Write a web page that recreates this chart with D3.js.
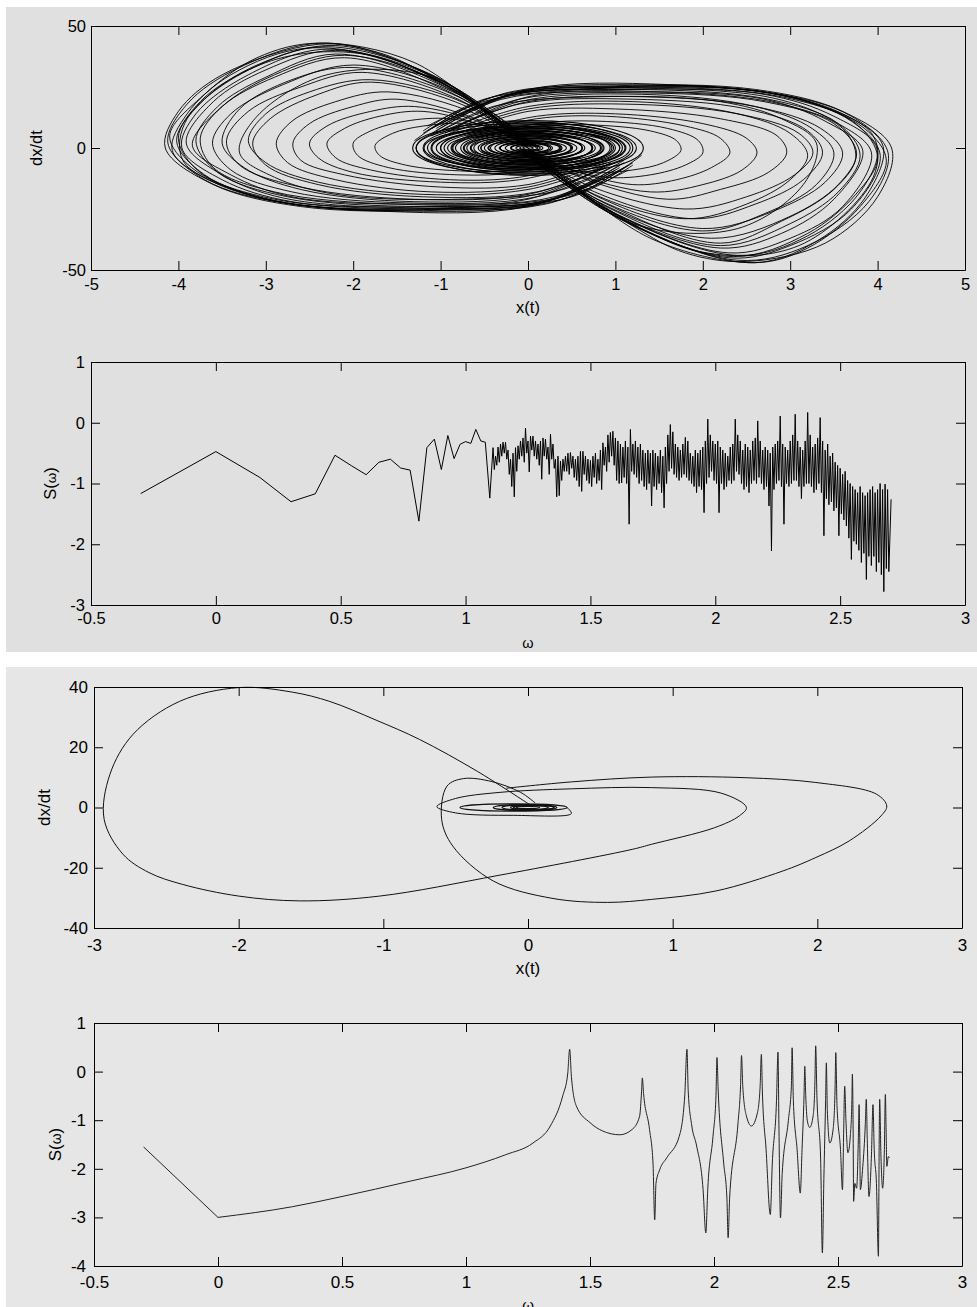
<!DOCTYPE html>
<html><head><meta charset="utf-8">
<script src="https://cdn.jsdelivr.net/npm/d3@7"></script>
<style>
body{margin:0;background:#fff}
svg{display:block}
text{font-family:"Liberation Sans",Arial,sans-serif}
</style>
</head><body>
<svg id="c" width="977" height="1307"></svg>
<script>
// ---------------- DATA ----------------
// Figure 1 phase portrait: left-lobe excursions (x, dx/dt pairs, flattened)
const leftLoops = [
 [1.2,-6, 0.4,-21, -1.0,-25.5, -2.6,-24, -3.6,-15, -4.15,0, -4.0,15, -3.5,30, -2.4,42.5, -1.7,39, -1.1,29, 0.0,3],
 [1.1,-8, 0.2,-22, -1.2,-25, -2.8,-22.5, -3.7,-13, -4.12,2, -3.9,18, -3.3,33, -2.3,43, -1.0,28, 0.1,1],
 [1.2,-7, 0.5,-20, -0.9,-24.5, -2.6,-23.5, -3.6,-14, -4.07,-1, -3.9,14, -3.4,30, -2.5,41, -1.2,31, -0.1,4],
 [1.0,-9, 0.1,-23, -1.4,-25.8, -2.9,-21.5, -3.7,-11, -4.02,3, -3.7,20, -3.1,34, -2.2,42, -0.9,26, 0.1,0],
 [1.15,-7, 0.3,-21, -1.1,-24, -2.7,-22, -3.5,-13, -3.96,0, -3.8,14, -3.2,30, -2.3,40.5, -1.0,27, 0.0,2],
 [1.05,-8, 0.2,-22, -1.3,-24.5, -2.8,-20.5, -3.5,-11, -3.91,2, -3.6,19, -3.0,32, -2.2,40, -0.95,26, 0.05,1],
 [1.1,-6, 0.3,-20, -1.2,-23, -2.7,-20, -3.4,-11, -3.84,1, -3.5,17, -2.9,30, -2.1,38, -0.9,25, 0.0,2],
 [1.0,-7, 0.1,-20, -1.4,-22.5, -2.7,-18, -3.4,-9, -3.61,2, -3.4,14, -2.8,26, -2.0,34, -0.8,22, 0.05,0],
 [0.9,-8, 0.0,-19, -1.3,-21, -2.6,-16, -3.3,-7, -3.45,3, -3.2,15, -2.6,25, -1.9,31, -0.8,20, 0.0,1],
 [1.0,-6, 0.1,-18, -1.2,-20, -2.4,-15, -3.0,-7, -3.15,2, -2.95,12, -2.4,22, -1.8,27, -0.7,17, 0.0,1],
 [0.9,-6, 0.0,-16, -1.1,-18, -2.2,-13, -2.75,-6, -2.88,2, -2.7,11, -2.2,19, -1.6,23, -0.6,14, 0.0,0],
 [0.8,-6, 0.0,-15, -1.0,-16, -2.1,-11, -2.6,-5, -2.69,2, -2.5,10, -2.0,17, -1.5,20, -0.6,12, 0.0,1],
 [0.8,-5, -0.1,-13, -1.0,-14, -2.0,-10, -2.4,-4, -2.5,2, -2.3,9, -1.8,15, -1.3,17, -0.5,10, 0.0,0],
 [0.7,-5, -0.1,-12, -0.9,-13, -1.8,-9, -2.2,-4, -2.3,2, -2.1,8, -1.7,13, -1.2,15, -0.5,9, 0.0,1],
 [0.6,-4, -0.1,-10, -0.8,-11, -1.6,-8, -1.95,-3, -2.0,2, -1.8,7, -1.4,11, -0.9,12, -0.3,7, 0.1,1],
 [0.6,-4, -0.1,-9, -0.7,-9.5, -1.4,-7, -1.7,-3, -1.75,1, -1.55,6, -1.2,9, -0.7,10, -0.2,6, 0.1,0],
 [1.3,-3, 0.6,-18, -0.6,-24, -2.2,-25, -3.3,-18, -3.95,-5, -3.9,12, -3.0,35, -1.8,38, -0.4,14],
 [1.0,-10, 0.0,-24, -1.6,-26, -3.1,-20, -3.85,-8, -4.1,5, -3.7,22, -3.1,37, -2.4,43, -1.3,35, -0.2,6],
 [0.9,-7, 0.0,-21, -1.5,-23, -2.9,-18, -3.6,-8, -3.75,4, -3.5,17, -2.9,29, -2.1,37, -0.9,23, 0.1,1],
 [1.1,-5, 0.4,-17, -0.8,-21, -2.2,-19, -2.9,-12, -3.3,-2, -3.1,13, -2.3,30, -1.1,29, -0.2,7],
 [1.15,-9, 0.2,-23, -1.3,-25, -2.9,-21, -3.75,-10, -4.0,4, -3.75,19, -3.2,32, -2.35,41.5, -1.1,30, 0.0,2],
 [1.05,-7, 0.2,-21.5, -1.2,-24, -2.75,-20, -3.55,-10, -3.8,3, -3.55,17, -3.0,29, -2.2,38.5, -0.95,25, 0.05,1],
 [0.95,-6, 0.1,-19, -1.3,-22, -2.6,-17, -3.25,-8, -3.5,2, -3.3,16, -2.7,28, -2.0,33, -0.8,21, 0.0,1],
 [0.9,-7, 0.0,-17, -1.2,-19, -2.4,-14, -3.0,-6, -3.2,3, -3.0,14, -2.5,23, -1.8,28, -0.7,18, 0.0,0]
];
// Figure 1 phase portrait: right-lobe excursions
const rightLoops = [
 [-1.2,6, -0.4,21, 1.0,25.5, 2.6,24, 3.6,15, 4.16,0, 4.0,-20, 3.4,-39, 2.5,-46.5, 1.8,-43, 1.2,-32, 0.0,-3],
 [-1.1,8, -0.2,22, 1.2,25, 2.8,22.5, 3.7,13, 4.12,-2, 3.9,-22, 3.2,-40, 2.4,-46, 1.0,-28, -0.1,-1],
 [-1.2,7, -0.5,20, 0.9,24.5, 2.6,23.5, 3.6,14, 4.06,1, 3.9,-18, 3.4,-36, 2.6,-47, 1.3,-33, 0.1,-4],
 [-1.0,9, -0.1,23, 1.4,25.8, 2.9,21.5, 3.7,11, 4.03,-3, 3.7,-25, 3.0,-40, 2.3,-45, 0.9,-26, -0.1,0],
 [-1.15,7, -0.3,21, 1.1,24, 2.7,22, 3.5,13, 3.99,0, 3.8,-18, 3.2,-36, 2.4,-44, 1.0,-27, 0.0,-2],
 [-1.05,8, -0.2,22, 1.3,24.5, 2.8,20.5, 3.5,11, 3.93,-2, 3.6,-24, 3.0,-37, 2.3,-43, 0.95,-26, -0.05,-1],
 [-1.1,6, -0.3,20, 1.2,23, 2.7,20, 3.4,11, 3.83,-1, 3.5,-21, 2.9,-35, 2.2,-41, 0.9,-25, 0.0,-2],
 [-1.0,7, -0.1,20, 1.4,22.5, 2.7,19, 3.5,10, 3.76,-2, 3.55,-15, 3.0,-28, 2.1,-37, 0.8,-22, -0.05,0],
 [-0.9,8, 0.0,19, 1.3,21, 2.6,17, 3.35,8, 3.60,-2, 3.4,-14, 2.8,-26, 2.0,-33, 0.8,-20, 0.0,-1],
 [-1.0,6, -0.1,18, 1.2,20, 2.5,16, 3.2,7, 3.37,-2, 3.15,-13, 2.6,-23, 1.9,-29, 0.7,-17, 0.0,-1],
 [-0.9,6, 0.0,16, 1.1,18, 2.4,14, 3.1,6, 3.26,-2, 3.05,-11, 2.5,-20, 1.8,-25, 0.6,-14, 0.0,0],
 [-0.8,6, 0.0,15, 1.0,16, 2.2,12, 2.85,5, 2.96,-2, 2.75,-10, 2.2,-17, 1.6,-21, 0.6,-12, 0.0,-1],
 [-0.8,5, 0.1,13, 1.0,14, 2.0,10, 2.5,4, 2.62,-2, 2.45,-9, 2.0,-15, 1.4,-18, 0.5,-10, 0.0,0],
 [-0.7,5, 0.1,12, 0.9,13, 1.8,9, 2.2,4, 2.31,-2, 2.1,-8, 1.7,-13, 1.2,-15, 0.5,-9, 0.0,-1],
 [-0.6,4, 0.1,10, 0.8,11, 1.6,8, 1.95,3, 2.0,-2, 1.8,-7, 1.4,-11, 0.9,-12, 0.3,-7, -0.1,-1],
 [-0.6,4, 0.1,9, 0.7,9.5, 1.4,7, 1.7,3, 1.75,-1, 1.55,-6, 1.2,-9, 0.7,-10, 0.2,-6, -0.1,0],
 [-1.3,3, -0.6,18, 0.6,24, 2.2,25, 3.3,18, 3.95,5, 3.95,-12, 3.1,-40, 1.9,-42, 0.4,-14],
 [-1.0,10, 0.0,24, 1.6,26, 3.1,20, 3.85,8, 4.1,-5, 3.8,-24, 3.2,-41, 2.6,-47, 1.4,-37, 0.2,-6],
 [-0.9,7, 0.0,21, 1.5,23, 2.9,18, 3.6,8, 3.75,-4, 3.5,-17, 2.9,-30, 2.2,-39, 0.9,-23, -0.1,-1],
 [-1.1,5, -0.4,17, 0.8,21, 2.2,19, 2.9,12, 3.3,2, 3.15,-15, 2.4,-33, 1.2,-31, 0.2,-7],
 [-1.15,9, -0.2,23, 1.3,25, 2.9,21, 3.75,10, 4.0,-4, 3.75,-19, 3.2,-35, 2.35,-44.5, 1.1,-30, 0.0,-2],
 [-1.05,7, -0.2,21.5, 1.2,24, 2.75,20, 3.55,10, 3.8,-3, 3.55,-18, 3.0,-31, 2.2,-40, 0.95,-25, -0.05,-1],
 [-0.95,6, -0.1,19, 1.3,22, 2.6,17, 3.25,8, 3.5,-2, 3.3,-15, 2.7,-27, 2.0,-34, 0.8,-21, 0.0,-1],
 [-0.9,7, 0.0,17, 1.2,19, 2.4,14, 3.0,6, 3.2,-3, 3.0,-13, 2.5,-23, 1.8,-29, 0.7,-18, 0.0,0]
];
// Figure 1 central spiral rings: [centre x, half-width, half-height]
const centerRings1 = [
 [0,0.06,0.5],[0.01,0.1,0.8],[0,0.14,1.1],[-0.01,0.18,1.5],[0.02,0.22,1.8],[0,0.26,2.1],
 [-0.02,0.3,2.5],[0.02,0.34,2.8],[0,0.38,3.1],[-0.03,0.42,3.5],[0.03,0.46,3.8],[0,0.5,4.1],
 [-0.03,0.54,4.5],[0.04,0.58,4.8],[0,0.62,5.1],[-0.04,0.66,5.5],[0.04,0.7,5.8],[0,0.74,6.1],
 [-0.05,0.78,6.5],[0.05,0.82,6.8],[0,0.86,7.1],[-0.06,0.9,7.5],[0.06,0.94,7.8],[-0.02,0.98,8.1],
 [-0.08,1.02,8.5],[0.06,1.06,8.8],[-0.05,1.1,9.1],[0.03,1.14,9.5],[-0.1,1.18,9.9],[0.02,1.22,10.3],
 [-0.06,1.26,10.7],[0.02,0.35,2.2],[-0.01,0.45,3.0],[0.01,0.55,3.9],[0,0.65,4.6],[0.02,0.75,5.4],
 [-0.02,0.85,6.2],[0.03,0.95,7.0],[0.0,1.05,7.9],[-0.04,1.15,8.7],[0.02,1.3,11.2]
];

// Figure 1 spectrum: sparse low-frequency points [log10 w, S]
const spec1Sparse = [
 [-0.301,-1.166],[0.0,-0.475],[0.176,-0.90],[0.301,-1.30],[0.398,-1.17],[0.477,-0.535],[0.544,-0.71],
 [0.602,-0.855],[0.653,-0.65],[0.699,-0.60],[0.740,-0.745],[0.778,-0.78],[0.813,-1.62],[0.845,-0.41],
 [0.875,-0.27],[0.903,-0.77],[0.929,-0.21],[0.954,-0.59],[0.978,-0.355],[1.0,-0.31],[1.021,-0.34],
 [1.041,-0.11],[1.061,-0.30],[1.079,-0.32],[1.097,-1.24]
];
// Figure 1 spectrum, dense part: upper / lower extremes in bins of 0.01 starting at w = 1.11
const spec1Start = 1.11, spec1Bin = 0.01;
const spec1Hi = [
 -0.41,-0.55,-0.40,-0.35,-0.32,-0.32,-0.45,-0.60,-0.50,
 -0.41,-0.38,-0.30,-0.25,-0.09,-0.30,-0.22,-0.22,-0.30,-0.35,
 -0.30,-0.25,-0.27,-0.40,-0.19,-0.35,-0.60,-0.55,-0.63,-0.60,
 -0.55,-0.50,-0.49,-0.55,-0.60,-0.55,-0.47,-0.47,-0.55,-0.60,
 -0.62,-0.55,-0.50,-0.60,-0.45,-0.33,-0.40,-0.20,-0.16,-0.14,
 -0.25,-0.30,-0.35,-0.40,-0.30,-0.40,-0.11,-0.35,-0.30,-0.40,
 -0.35,-0.45,-0.50,-0.45,-0.50,-0.45,-0.50,-0.55,-0.45,-0.55,
 -0.40,-0.20,-0.03,-0.15,-0.35,-0.40,-0.45,-0.35,-0.24,-0.30,
 -0.50,-0.55,-0.45,-0.50,-0.45,-0.40,-0.30,0.06,-0.20,-0.30,
 -0.35,-0.30,-0.40,-0.45,-0.50,-0.55,-0.40,-0.35,0.06,-0.20,
 -0.30,-0.45,-0.35,-0.40,-0.45,-0.30,-0.25,0.03,-0.30,-0.45,
 -0.40,-0.45,-0.50,-0.40,-0.35,-0.30,0.11,-0.35,-0.40,-0.45,
 -0.30,-0.20,0.14,-0.30,-0.40,-0.45,-0.30,0.17,-0.20,-0.40,
 -0.35,-0.25,0.085,-0.30,-0.45,-0.35,-0.55,-0.50,-0.65,-0.70,
 -0.75,-0.85,-0.80,-0.95,-1.00,-1.05,-1.10,-1.15,-1.05,-1.15,
 -1.20,-1.15,-1.10,-1.05,-1.15,-1.10,-1.00,-1.10,-1.01,-1.10
];
const spec1Lo = [
 -0.77,-0.70,-0.65,-0.55,-0.50,-0.60,-0.85,-1.05,-1.22,
 -0.80,-0.60,-0.55,-0.65,-0.50,-0.81,-0.45,-0.55,-0.60,-0.70,
 -0.93,-0.55,-0.60,-0.85,-0.60,-0.75,-1.22,-1.20,-0.95,-0.80,
 -0.80,-0.85,-0.75,-0.90,-0.95,-1.05,-1.13,-0.85,-0.95,-1.00,
 -1.05,-0.90,-1.00,-0.95,-1.10,-0.70,-0.80,-0.65,-0.55,-0.70,
 -0.95,-1.00,-0.99,-0.90,-1.00,-1.67,-0.80,-0.85,-0.90,-1.00,
 -0.95,-1.05,-1.10,-1.00,-1.37,-1.05,-1.10,-1.00,-1.15,-1.40,
 -1.00,-0.80,-0.75,-0.85,-0.90,-0.95,-0.90,-0.85,-0.90,-0.95,
 -1.00,-1.05,-1.15,-1.05,-1.10,-1.48,-1.00,-0.90,-0.80,-0.95,
 -1.00,-1.48,-1.00,-1.10,-1.05,-0.95,-1.00,-0.95,-0.80,-0.85,
 -1.00,-1.10,-1.05,-1.15,-1.00,-0.95,-1.00,-0.90,-1.00,-1.10,
 -1.05,-1.37,-2.11,-1.10,-1.00,-0.95,-1.05,-1.67,-1.00,-1.05,
 -1.00,-0.95,-0.95,-1.05,-1.25,-1.05,-1.00,-1.00,-1.05,-1.15,
 -1.10,-1.00,-1.15,-1.86,-1.25,-1.35,-1.30,-1.45,-1.40,-1.86,
 -1.50,-1.60,-1.70,-1.90,-2.25,-1.95,-2.00,-2.10,-2.30,-2.15,
 -2.58,-2.20,-2.35,-2.20,-2.45,-2.30,-2.50,-2.78,-2.40,-2.45
];
const spec1End = [2.704,-1.26];

// Figure 2 phase portrait: trajectory pieces
const orbitLeft = [
 [0.01,1],[-0.35,12],[-0.75,22.6],[-1.05,29],[-1.37,35.2],[-1.63,38.3],[-2.0,39.8],[-2.41,35.2],
 [-2.73,24.3],[-2.89,11],[-2.93,-3.9],[-2.80,-15.5],[-2.62,-21.6],[-2.39,-25.5],[-2.0,-29.4],
 [-1.58,-31.0],[-1.025,-29.4],[-0.2,-22.5],[0.72,-13.9],[0.855,-12.2],[1.29,-6.7],[1.46,-2.8],
 [1.51,0],[1.34,4.7],[0.855,6.6],[0.3,6.2],[-0.2,5],[-0.5,3],[-0.63,0.3],[-0.5,-1.8],[-0.1,-2.6],
 [0.3,-2.0],[0.27,0]
];
const orbitRight = [
 [-0.15,6.4],[0.3,8.5],[0.855,10.1],[1.5,9.9],[1.99,8.3],[2.41,4.4],[2.48,0.5],[2.44,-2.8],
 [2.22,-11.1],[1.99,-16.6],[1.76,-21.1],[1.30,-27.7],[0.855,-30.5],[0.55,-31.5],[0.173,-30.2],
 [-0.24,-24.4],[-0.52,-12.8],[-0.597,-3.9],[-0.56,7.1],[-0.446,9.6],[-0.25,8.6],[-0.05,5],[0.05,1.5]
];
const centerRings2 = [
 [-0.1,0.37,1.2],[0.0,0.18,0.9],[0.02,0.12,0.6],[0.0,0.08,0.4],[0.03,0.15,0.7],[-0.02,0.22,1.0]
];

// Figure 2 spectrum [log10 w, S]: straight low-frequency part, then resonances
const spec2Low = [[-0.30,-1.55],[0.0,-3.0]];
const spec2 = [
 [0.0,-3.0],[0.3,-2.78],[0.5,-2.57],[0.77,-2.26],[1.0,-1.98],[1.16,-1.71],[1.27,-1.47],
 [1.34,-1.12],[1.39,-0.50],[1.41,-0.05],[1.418,0.46],[1.425,-0.1],[1.445,-0.71],[1.50,-1.05],
 [1.55,-1.22],[1.62,-1.30],[1.67,-1.19],[1.70,-0.92],[1.708,-0.4],[1.711,-0.13],[1.716,-0.45],
 [1.74,-1.19],[1.754,-1.88],[1.761,-3.05],[1.766,-2.3],[1.781,-2.02],[1.81,-1.77],[1.86,-1.33],
 [1.882,-0.50],[1.891,0.46],[1.896,-0.4],[1.91,-1.1],[1.93,-1.53],[1.956,-2.43],[1.967,-3.32],
 [1.975,-2.4],[1.996,-1.33],[2.008,-0.5],[2.012,0.29],[2.017,-0.4],[2.039,-1.88],[2.052,-2.6],
 [2.057,-3.42],[2.063,-2.6],[2.097,-1.05],[2.107,-0.3],[2.111,0.33],[2.116,-0.3],[2.13,-0.9],
 [2.151,-1.12],[2.175,-0.85],[2.186,-0.3],[2.191,0.355],[2.195,-0.4],[2.21,-1.6],[2.227,-2.94],
 [2.235,-1.9],[2.252,-0.6],[2.258,0.40],[2.262,-1.2],[2.268,-3.01],[2.275,-2.1],[2.30,-1.0],
 [2.312,-0.3],[2.315,0.49],[2.32,-0.6],[2.335,-1.6],[2.348,-2.5],[2.355,-1.6],[2.363,-0.5],
 [2.366,0.11],[2.37,-0.5],[2.376,-1.0],[2.386,-1.15],[2.40,-0.9],[2.407,-0.2],[2.41,0.53],
 [2.415,-0.5],[2.43,-1.8],[2.437,-3.73],[2.443,-2.2],[2.45,-0.6],[2.453,0.18],[2.457,-0.8],
 [2.467,-1.47],[2.48,-1.2],[2.488,-0.4],[2.491,0.39],[2.496,-0.7],[2.51,-1.6],[2.518,-2.43],
 [2.523,-1.2],[2.527,-0.30],[2.532,-1.0],[2.54,-1.67],[2.55,-1.3],[2.556,-0.6],[2.558,-0.05],
 [2.561,-1.2],[2.563,-2.67],[2.568,-2.3],[2.575,-2.4],[2.582,-1.4],[2.585,-0.68],[2.588,-1.5],
 [2.59,-2.43],[2.60,-1.95],[2.61,-1.1],[2.614,-0.57],[2.618,-1.4],[2.625,-2.57],[2.635,-1.7],
 [2.641,-0.68],[2.646,-1.6],[2.655,-2.3],[2.663,-3.80],[2.666,-1.5],[2.668,-0.57],[2.673,-1.7],
 [2.68,-2.4],[2.687,-1.6],[2.691,-0.47],[2.694,-1.2],[2.697,-1.95],[2.703,-1.75],[2.708,-1.77]
];

// Tick values
const ticksX1 = [-5,-4,-3,-2,-1,0,1,2,3,4,5];
const ticksY1 = [-50,0,50];
const ticksW = [-0.5,0,0.5,1,1.5,2,2.5,3];
const ticksS1 = [-3,-2,-1,0,1];
const ticksX2 = [-3,-2,-1,0,1,2,3];
const ticksY2 = [-40,-20,0,20,40];
const ticksS2 = [-4,-3,-2,-1,0,1];

// ---------------- DRAWING ----------------
const svg = d3.select("#c");
svg.append("rect").attr("x",6).attr("y",7).attr("width",971).attr("height",645).attr("fill","#e0e0e0");
svg.append("rect").attr("x",6).attr("y",667).attr("width",971).attr("height",640).attr("fill","#e6e6e6");

const pairs = a => d3.range(0, a.length, 2).map(i => [a[i], a[i+1]]);

function makeAxes(c){
  const g = svg.append("g");
  const x = d3.scaleLinear().domain(c.xd).range([c.l, c.r]);
  const y = d3.scaleLinear().domain(c.yd).range([c.b, c.t]);
  const data = g.append("g");
  const ax = g.append("g");
  const fmt = d => String(d);
  const tl = 9;
  ax.append("g").attr("transform",`translate(0,${c.b})`)
    .call(d3.axisBottom(x).tickValues(c.xt).tickSize(-tl).tickSizeOuter(0).tickPadding(c.xpad).tickFormat(fmt));
  ax.append("g").attr("transform",`translate(0,${c.t})`)
    .call(d3.axisTop(x).tickValues(c.xt).tickSize(-tl).tickSizeOuter(0).tickFormat(""));
  ax.append("g").attr("transform",`translate(${c.l},0)`)
    .call(d3.axisLeft(y).tickValues(c.yt).tickSize(-tl).tickSizeOuter(0).tickPadding(c.ypad).tickFormat(fmt));
  ax.append("g").attr("transform",`translate(${c.r},0)`)
    .call(d3.axisRight(y).tickValues(c.yt).tickSize(-tl).tickSizeOuter(0).tickFormat(""));
  ax.selectAll("g").attr("font-family",null).attr("font-size",null);
  ax.selectAll(".domain").attr("stroke","#000").attr("stroke-width",1);
  ax.selectAll(".tick line").attr("stroke","#000");
  ax.selectAll(".tick text").attr("fill","#000").style("font-size",c.fs+"px");
  // axis labels
  const xl = g.append("text").attr("x",(c.l+c.r)/2).attr("y",c.xly).attr("text-anchor","middle").style("font-size",c.fs+"px").attr("fill","#000");
  if (c.xlabel === "w") xl.append("tspan").style("font-size",(c.fs-2)+"px").text("ω");
  else xl.text(c.xlabel);
  const yl = g.append("text").attr("transform",`translate(${c.ylx},${(c.t+c.b)/2}) rotate(-90)`)
    .attr("text-anchor","middle").style("font-size",c.fs+"px").attr("fill","#000");
  if (c.ylabel === "S") { yl.append("tspan").text("S("); yl.append("tspan").style("font-size",(c.fs-3)+"px").text("ω"); yl.append("tspan").text(")"); }
  else yl.text(c.ylabel);
  return {data, x, y};
}

// --- Panel 1: chaotic phase portrait
{
  const A = makeAxes({l:91,r:965,t:26,b:270,xd:[-5,5],yd:[-50,50],xt:ticksX1,yt:ticksY1,xpad:8,ypad:5,fs:16.5,
    xlabel:"x(t)",xly:313,ylabel:"dx/dt",ylx:42});
  const line = d3.line().x(d=>A.x(d[0])).y(d=>A.y(d[1])).curve(d3.curveCatmullRom.alpha(0.5));
  A.data.selectAll("path.l").data(leftLoops.concat(rightLoops)).join("path")
    .attr("d", d => line(pairs(d))).attr("fill","none").attr("stroke","#000").attr("stroke-width",0.9);
  A.data.selectAll("ellipse").data(centerRings1).join("ellipse")
    .attr("cx", d=>A.x(d[0])).attr("cy", A.y(0))
    .attr("rx", d=>A.x(d[0]+d[1])-A.x(d[0])).attr("ry", d=>A.y(0)-A.y(d[2]))
    .attr("fill","none").attr("stroke","#000").attr("stroke-width",1.1);
}

// --- Panel 2: chaotic spectrum
{
  const A = makeAxes({l:91,r:965,t:362,b:605,xd:[-0.5,3],yd:[-3,1],xt:ticksW,yt:ticksS1,xpad:7,ypad:6,fs:16.5,
    xlabel:"w",xly:648,ylabel:"S",ylx:56});
  const pts = spec1Sparse.slice();
  spec1Hi.forEach((h,i)=>{ const w = spec1Start + i*spec1Bin; pts.push([w,h]); pts.push([w+spec1Bin/2, spec1Lo[i]]); });
  pts.push(spec1End);
  A.data.append("path").attr("d", d3.line().x(d=>A.x(d[0])).y(d=>A.y(d[1]))(pts))
    .attr("fill","none").attr("stroke","#000").attr("stroke-width",1);
}

// --- Panel 3: periodic phase portrait
{
  const A = makeAxes({l:94,r:962,t:687,b:928,xd:[-3,3],yd:[-40,40],xt:ticksX2,yt:ticksY2,xpad:11,ypad:6,fs:17,
    xlabel:"x(t)",xly:974,ylabel:"dx/dt",ylx:50});
  const line = d3.line().x(d=>A.x(d[0])).y(d=>A.y(d[1])).curve(d3.curveCatmullRom.alpha(0.5));
  A.data.selectAll("path.o").data([orbitLeft, orbitRight]).join("path")
    .attr("d", d=>line(d)).attr("fill","none").attr("stroke","#111").attr("stroke-width",1);
  A.data.selectAll("ellipse").data(centerRings2).join("ellipse")
    .attr("cx", d=>A.x(d[0])).attr("cy", A.y(0))
    .attr("rx", d=>A.x(d[0]+d[1])-A.x(d[0])).attr("ry", d=>A.y(0)-A.y(d[2]))
    .attr("fill","none").attr("stroke","#111").attr("stroke-width",1.2);
}

// --- Panel 4: periodic spectrum
{
  const A = makeAxes({l:94,r:962,t:1023,b:1266,xd:[-0.5,3],yd:[-4,1],xt:ticksW,yt:ticksS2,xpad:10,ypad:8,fs:17,
    xlabel:"w",xly:1310,ylabel:"S",ylx:61});
  A.data.append("path").attr("d", d3.line().x(d=>A.x(d[0])).y(d=>A.y(d[1]))(spec2Low))
    .attr("fill","none").attr("stroke","#222").attr("stroke-width",1);
  A.data.append("path").attr("d", d3.line().x(d=>A.x(d[0])).y(d=>A.y(d[1])).curve(d3.curveMonotoneX)(spec2))
    .attr("fill","none").attr("stroke","#222").attr("stroke-width",1);
}
</script>
</body></html>
